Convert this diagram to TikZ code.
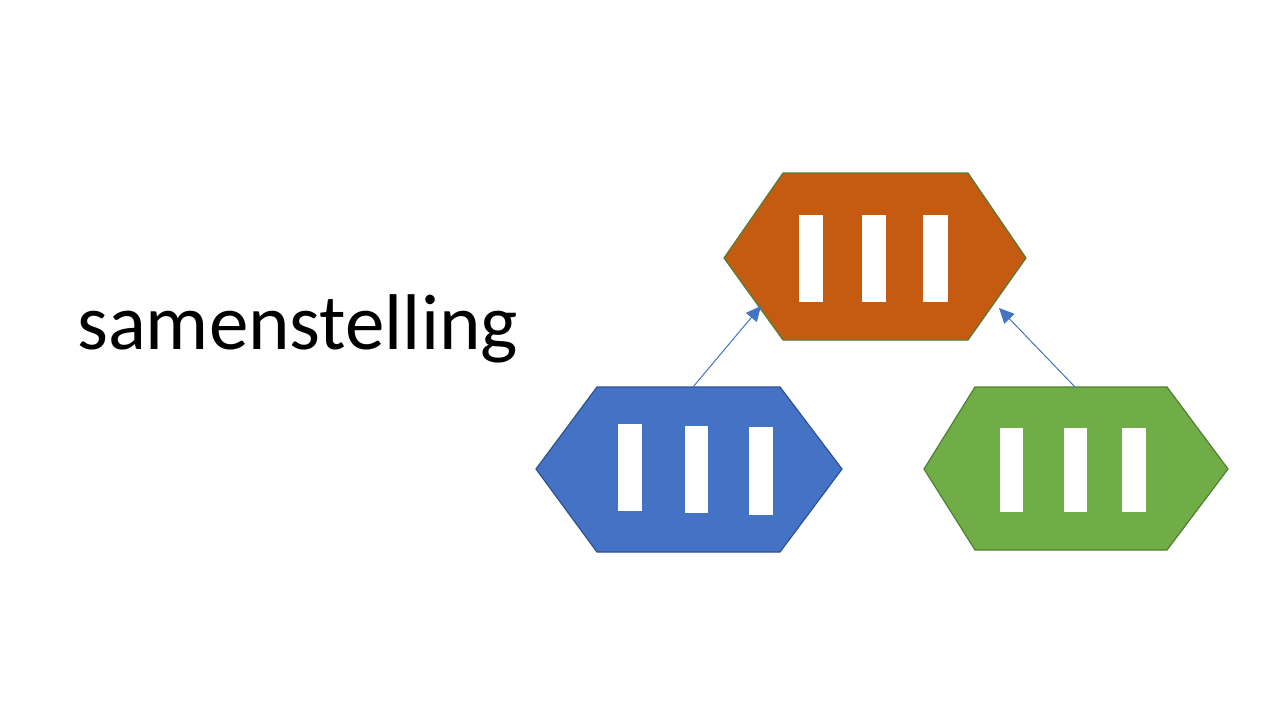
\documentclass[tikz,border=0pt]{standalone}
\usepackage{fontspec}
\setmainfont{Carlito}
\usetikzlibrary{arrows.meta}
\definecolor{orangefill}{HTML}{C55A11}
\definecolor{bluefill}{HTML}{4472C4}
\definecolor{blueline}{HTML}{2F528F}
\definecolor{greenfill}{HTML}{70AD47}
\definecolor{greenline}{HTML}{507E32}
\definecolor{arrowblue}{HTML}{4472C4}
\tikzset{
  hexshape/.style={line width=1.2pt, line join=miter},
  bar/.style={fill=white, draw=none},
  link/.style={draw=arrowblue, line width=1pt, -{Triangle[length=15pt,width=14pt]}},
}
\begin{document}
\begin{tikzpicture}[x=1pt,y=-1pt]
\useasboundingbox (0,0) rectangle (1280,720);
\fill[white] (0,0) rectangle (1280,720);

% title
\node[anchor=base west, inner sep=0pt, font=\fontsize{79}{92}\selectfont] (title) at (77,349) {samenstelling};

% orange hexagon (top)
\draw[hexshape, fill=orangefill, draw=greenline] (724,258) -- (783,173) -- (968,173) -- (1026,258) -- (968,340) -- (783,340) -- cycle;
\coordinate (topL) at (761,306);
\coordinate (topR) at (999,308);
\fill[bar] (799,215) rectangle (823,302);
\fill[bar] (862,215) rectangle (886,302);
\fill[bar] (923,215) rectangle (948,302);

% blue hexagon (left)
\draw[hexshape, fill=bluefill, draw=blueline] (536,469) -- (597,387) -- (780,387) -- (842,469) -- (780,552) -- (597,552) -- cycle;
\coordinate (blueTop) at (693,387);
\fill[bar] (618,424) rectangle (642,511);
\fill[bar] (685,426) rectangle (708,513);
\fill[bar] (749,427) rectangle (773,515);

% green hexagon (right)
\draw[hexshape, fill=greenfill, draw=greenline] (924,469) -- (975,387) -- (1167,387) -- (1228,469) -- (1167,550) -- (975,550) -- cycle;
\coordinate (greenTop) at (1075,387);
\fill[bar] (1000,428) rectangle (1023,512);
\fill[bar] (1064,428) rectangle (1087,512);
\fill[bar] (1122,428) rectangle (1146,512);

% connectors
\draw[link] (blueTop) -- (topL);
\draw[link] (greenTop) -- (topR);
\end{tikzpicture}
\end{document}
